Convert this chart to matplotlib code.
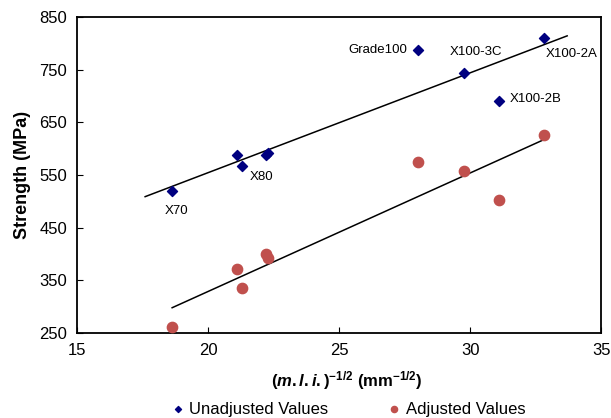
import numpy as np
import matplotlib
matplotlib.use("Agg")
import matplotlib.pyplot as plt

plt.rcParams['font.family'] = ['Liberation Sans', 'DejaVu Sans']
plt.rcParams['mathtext.fontset'] = 'custom'
plt.rcParams['mathtext.rm'] = 'Liberation Sans:bold'
plt.rcParams['mathtext.it'] = 'Liberation Sans:bold:italic'
plt.rcParams['mathtext.bf'] = 'Liberation Sans:bold'

# (m.l.i.)^-1/2 for each steel and the measured strengths
grades = ["X70", "", "X80", "", "", "Grade100", "X100-3C", "X100-2B", "X100-2A"]
mli = [18.63, 21.1, 21.3, 22.2, 22.3, 28.0, 29.77, 31.1, 32.8]
unadjusted = [520, 588, 567, 588, 592, 787, 744, 691, 810]
adjusted = [262, 372, 336, 400, 392, 575, 558, 503, 626]

fig = plt.figure(figsize=(6.11, 4.18), dpi=100)
ax = fig.add_axes([0.126, 0.203, 0.858, 0.756])

x = np.array(mli)
ax.scatter(x, unadjusted, marker='D', s=26, color='#000080', zorder=3,
           label='Unadjusted Values')
ax.scatter(x, adjusted, marker='o', s=55, color='#C0504D', zorder=3,
           label='Adjusted Values')

# linear trend lines
k1, b1 = np.polyfit(x, unadjusted, 1)
xs1 = np.array([17.6, 33.7])
ax.plot(xs1, k1 * xs1 + b1, color='black', lw=1.1, zorder=2)
k2, b2 = np.polyfit(x, adjusted, 1)
xs2 = np.array([x.min(), x.max()])
ax.plot(xs2, k2 * xs2 + b2, color='black', lw=1.1, zorder=2)

# grade labels
offsets = {"X70": (-0.3, -38, 'left'), "X80": (0.3, -20, 'left'),
           "Grade100": (-0.4, 0, 'right'), "X100-3C": (0.45, 40, 'center'),
           "X100-2A": (0.1, -30, 'left'), "X100-2B": (0.4, 3, 'left')}
for g, xv, yv in zip(grades, mli, unadjusted):
    if g:
        dx, dy, ha = offsets[g]
        ax.text(xv + dx, yv + dy, g, fontsize=9.5, ha=ha, va='center')

ax.set_xlim(15, 35)
ax.set_ylim(250, 850)
ax.set_xticks([15, 20, 25, 30, 35])
ax.set_yticks([250, 350, 450, 550, 650, 750, 850])
ax.tick_params(axis='both', direction='in', length=4, labelsize=12, pad=7)
for s in ax.spines.values():
    s.set_linewidth(1.3)

ax.set_ylabel('Strength (MPa)', fontsize=13, fontweight='bold', labelpad=6)
ax.set_xlabel(r'$\mathrm{(}\mathit{m.l.i.}\mathrm{)}^{\mathrm{-1/2}}$ (mm$^{\mathrm{-1/2}}$)',
              fontsize=12, fontweight='bold')
ax.xaxis.set_label_coords(0.515, -0.115)

fig.legend(loc='lower center', bbox_to_anchor=(0.57, -0.033), ncol=2,
           frameon=False, fontsize=12, handlelength=0.8, handletextpad=0.3,
           columnspacing=3.55, markerscale=0.6)

fig.savefig('out.png', dpi=100)
